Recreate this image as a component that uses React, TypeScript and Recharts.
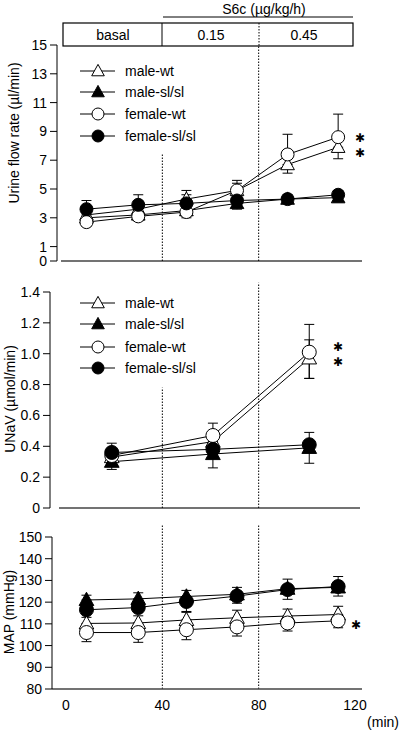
import React from "react";
import { LineChart, Line, XAxis, YAxis, ErrorBar, ReferenceLine } from "recharts";

const FONT = "Arial, 'Liberation Sans', sans-serif";
const INK = "#000";

// legend / series order (later ones are drawn on top)
const SERIES_NAMES = ["male-wt", "male-sl/sl", "female-wt", "female-sl/sl"];
const SERIES_SHAPES = ["triangle", "triangle", "circle", "circle"];
const SERIES_FILLED = [false, true, false, true];

// urine flow rate (µl/min)
const UF_TIME = [8.5, 30, 50, 71, 92, 113];
const UF_MALE_WT = [3.2, 3.6, 4.3, 4.9, 6.7, 7.9];
const UF_MALE_SL = [3.0, 3.2, 3.5, 4.0, 4.3, 4.4];
const UF_FEMALE_WT = [2.7, 3.1, 3.4, 4.9, 7.4, 8.6];
const UF_FEMALE_SL = [3.6, 3.9, 4.0, 4.2, 4.3, 4.6];
const UF_MALE_WT_ERR = [[0, 0.4], [0, 0.5], [0, 0.6], [0, 0.5], [0.6, 0], [0.8, 0]];
const UF_MALE_SL_ERR = [[0.3, 0], [0.4, 0], [0.5, 0], [0.4, 0], [0.3, 0], [0.3, 0]];
const UF_FEMALE_WT_ERR = [[0.3, 0], [0.3, 0], [0.3, 0], [0, 0.7], [0, 1.4], [0, 1.6]];
const UF_FEMALE_SL_ERR = [[0, 0.6], [0, 0.7], [0, 0.6], [0, 0.3], [0, 0.3], [0, 0.3]];
const UF_TICKS = [0, 1, 3, 5, 7, 9, 11, 13, 15];

// UNaV (µmol/min)
const UNAV_TIME = [19, 61, 101];
const UNAV_MALE_WT = [0.33, 0.43, 0.97];
const UNAV_MALE_SL = [0.3, 0.35, 0.39];
const UNAV_FEMALE_WT = [0.34, 0.47, 1.01];
const UNAV_FEMALE_SL = [0.36, 0.38, 0.41];
const UNAV_MALE_WT_ERR = [[0, 0.03], [0, 0.05], [0.13, 0.12]];
const UNAV_MALE_SL_ERR = [[0.05, 0], [0.09, 0], [0.1, 0]];
const UNAV_FEMALE_WT_ERR = [[0, 0.04], [0, 0.08], [0.17, 0.18]];
const UNAV_FEMALE_SL_ERR = [[0, 0.06], [0, 0.06], [0, 0.08]];
const UNAV_TICKS = [0, 0.2, 0.4, 0.6, 0.8, 1.0, 1.2, 1.4];

// MAP (mmHg)
const MAP_TIME = [8.5, 30, 50, 71, 92, 113];
const MAP_MALE_WT = [110.2, 110.4, 111.8, 112.8, 113.6, 114.3];
const MAP_MALE_SL = [121, 121.5, 122.6, 123.6, 126.2, 126.8];
const MAP_FEMALE_WT = [106, 106, 107.3, 108.6, 110.4, 111.4];
const MAP_FEMALE_SL = [116.5, 117.5, 120.3, 122.8, 125.8, 127.2];
const MAP_MALE_WT_ERR = [[0, 2.8], [0, 3.3], [0, 3.5], [0, 3.5], [0, 3.2], [0, 3.8]];
const MAP_MALE_SL_ERR = [[0, 2.2], [0, 2.8], [0, 2.8], [0, 3.2], [0, 4.4], [0, 5]];
const MAP_FEMALE_WT_ERR = [[4.2, 0], [4.5, 0], [4.6, 0], [4.2, 0], [3.7, 0], [3.2, 0]];
const MAP_FEMALE_SL_ERR = [[0, 3], [0, 3], [4.6, 0], [3.3, 0], [4.5, 0], [4.4, 0]];
const MAP_TICKS = [80, 90, 100, 110, 120, 130, 140, 150];

const TIME_TICKS = [0, 40, 80, 120];
const PHASES = ["basal", "0.15", "0.45"];

// x scale: 0 min at 66px, 120 min at 355px
const X0 = 66;
const PX = 289 / 120;
const toMin = (px: number) => (px - X0) / PX;

function buildRows(time: number[], vals: number[][], errs: number[][][]) {
  return time.map((t, i) => {
    const row: any = { t };
    vals.forEach((v, s) => {
      row["s" + s] = v[i];
      row["e" + s] = errs[s][i];
    });
    return row;
  });
}

function Marker({ cx, cy, shape, filled, r }: any) {
  if (cx == null || cy == null) return null;
  const fill = filled ? INK : "#fff";
  if (shape === "circle") {
    return <circle cx={cx} cy={cy} r={r} fill={fill} stroke={INK} strokeWidth={1} />;
  }
  const w = r * 2.1;
  const h = r * 1.9;
  const pts = `${cx},${cy - h * 0.58} ${cx + w / 2},${cy + h * 0.42} ${cx - w / 2},${cy + h * 0.42}`;
  return <polygon points={pts} fill={fill} stroke={INK} strokeWidth={1} strokeLinejoin="miter" />;
}

interface PanelProps {
  top: number;
  height: number;
  plotTop: number;
  plotBottom: number;
  axisX: number;
  lineStart: number;
  lineEnd: number;
  rows: any[];
  yDomain: [number, number];
  yTicks: number[];
  yFormat?: (v: number) => string;
  dash40: [number, number];
  dash80: [number, number];
  showTime?: boolean;
  r: number;
}

function Panel(p: PanelProps) {
  const xMin = toMin(p.axisX);
  const xMax = toMin(362);
  const bottomExtra = p.showTime ? 30 : 0;
  return (
    <div style={{ position: "absolute", left: 0, top: p.top }}>
      <LineChart
        width={400}
        height={p.height}
        data={p.rows}
        margin={{ top: p.plotTop - p.top, right: 38, bottom: p.top + p.height - p.plotBottom - bottomExtra, left: 0 }}
      >
        <XAxis
          dataKey="t"
          type="number"
          domain={[xMin, xMax]}
          allowDataOverflow
          ticks={TIME_TICKS}
          hide={!p.showTime}
          height={30}
          tickLine={false}
          tickMargin={5}
          axisLine={{ stroke: "#444", strokeWidth: 1.5 }}
          tick={{ fill: INK, fontSize: 14, fontFamily: FONT }}
        />
        <YAxis
          type="number"
          domain={p.yDomain}
          ticks={p.yTicks}
          interval={0}
          width={p.axisX}
          tickSize={7}
          tickMargin={3}
          tickFormatter={p.yFormat}
          axisLine={{ stroke: INK, strokeWidth: 1 }}
          tickLine={{ stroke: INK, strokeWidth: 1 }}
          tick={{ fill: INK, fontSize: 14, fontFamily: FONT }}
        />
        {!p.showTime && (
          <ReferenceLine
            segment={[{ x: toMin(p.lineStart), y: p.yDomain[0] }, { x: toMin(p.lineEnd), y: p.yDomain[0] }]}
            stroke="#444"
            strokeWidth={1.5}
            ifOverflow="visible"
          />
        )}
        <ReferenceLine
          segment={[{ x: 40, y: p.dash40[0] }, { x: 40, y: p.dash40[1] }]}
          stroke={INK}
          strokeWidth={1}
          strokeDasharray="1.5 1.5"
          ifOverflow="visible"
        />
        <ReferenceLine
          segment={[{ x: 80, y: p.dash80[0] }, { x: 80, y: p.dash80[1] }]}
          stroke={INK}
          strokeWidth={1}
          strokeDasharray="1.5 1.5"
          ifOverflow="visible"
        />
        {SERIES_NAMES.map((name, s) => (
          <Line
            key={name}
            name={name}
            dataKey={"s" + s}
            type="linear"
            stroke={INK}
            strokeWidth={1}
            isAnimationActive={false}
            activeDot={false}
            dot={(d: any) => (
              <Marker
                key={name + d.index}
                cx={d.cx}
                cy={d.cy}
                r={p.r}
                shape={SERIES_SHAPES[s]}
                filled={SERIES_FILLED[s]}
              />
            )}
          >
            <ErrorBar
              dataKey={"e" + s}
              direction="y"
              width={5}
              stroke={INK}
              strokeWidth={1}
              isAnimationActive={false}
            />
          </Line>
        ))}
      </LineChart>
    </div>
  );
}

function Legend({ rowsY }: { rowsY: number[] }) {
  return (
    <g>
      {SERIES_NAMES.map((name, s) => (
        <g key={name}>
          <line x1={80} x2={115} y1={rowsY[s]} y2={rowsY[s]} stroke={INK} strokeWidth={1} />
          <Marker cx={98} cy={rowsY[s]} r={6} shape={SERIES_SHAPES[s]} filled={SERIES_FILLED[s]} />
          <text x={125} y={rowsY[s]} dominantBaseline="central" fontSize={14} fontFamily={FONT} fill={INK}>
            {name}
          </text>
        </g>
      ))}
    </g>
  );
}

// significance mark
function Star({ x, y }: { x: number; y: number }) {
  return (
    <text x={x} y={y} textAnchor="middle" dominantBaseline="central" fontSize={12} fontFamily="'DejaVu Sans'" fill={INK}>
      ✱
    </text>
  );
}

export default function App() {
  const ufRows = buildRows(
    UF_TIME,
    [UF_MALE_WT, UF_MALE_SL, UF_FEMALE_WT, UF_FEMALE_SL],
    [UF_MALE_WT_ERR, UF_MALE_SL_ERR, UF_FEMALE_WT_ERR, UF_FEMALE_SL_ERR]
  );
  const unavRows = buildRows(
    UNAV_TIME,
    [UNAV_MALE_WT, UNAV_MALE_SL, UNAV_FEMALE_WT, UNAV_FEMALE_SL],
    [UNAV_MALE_WT_ERR, UNAV_MALE_SL_ERR, UNAV_FEMALE_WT_ERR, UNAV_FEMALE_SL_ERR]
  );
  const mapRows = buildRows(
    MAP_TIME,
    [MAP_MALE_WT, MAP_MALE_SL, MAP_FEMALE_WT, MAP_FEMALE_SL],
    [MAP_MALE_WT_ERR, MAP_MALE_SL_ERR, MAP_FEMALE_WT_ERR, MAP_FEMALE_SL_ERR]
  );

  return (
    <div style={{ position: "absolute", left: 0, top: 0, width: 400, height: 731, background: "#fff", fontFamily: FONT }}>
      <Panel
        top={0}
        height={275}
        plotTop={45}
        plotBottom={261}
        axisX={57}
        lineStart={61}
        lineEnd={362}
        rows={ufRows}
        yDomain={[0, 15]}
        yTicks={UF_TICKS}
        dash40={[0, 7.5]}
        dash80={[0, 15]}
        r={6.5}
      />
      <Panel
        top={275}
        height={245}
        plotTop={292}
        plotBottom={508}
        axisX={50}
        lineStart={59}
        lineEnd={360}
        rows={unavRows}
        yDomain={[0, 1.4]}
        yTicks={UNAV_TICKS}
        yFormat={(v) => (v === 0 ? "0" : v.toFixed(1))}
        dash40={[0, 0.78]}
        dash80={[0, 1.46]}
        r={7}
      />
      <Panel
        top={520}
        height={211}
        plotTop={537}
        plotBottom={689}
        axisX={52}
        lineStart={52}
        lineEnd={362}
        rows={mapRows}
        yDomain={[80, 150]}
        yTicks={MAP_TICKS}
        dash40={[80, 155.5]}
        dash80={[80, 155.5]}
        showTime
        r={7}
      />
      <svg width={400} height={731} style={{ position: "absolute", left: 0, top: 0, pointerEvents: "none" }}>
        {/* treatment header */}
        <text x={264} y={9} textAnchor="middle" dominantBaseline="central" fontSize={14} fontFamily={FONT} fill={INK}>
          S6c (µg/kg/h)
        </text>
        <line x1={163} x2={353} y1={17} y2={17} stroke={INK} strokeWidth={1} />
        <rect x={63} y={23} width={290} height={23} fill="none" stroke={INK} strokeWidth={1.2} />
        <line x1={162} x2={162} y1={23} y2={46} stroke={INK} strokeWidth={1} />
        <line x1={259} x2={259} y1={23} y2={46} stroke={INK} strokeWidth={1} strokeDasharray="1.5 1.5" />
        {PHASES.map((ph, i) => (
          <text key={ph} x={[113, 211, 304][i]} y={35} textAnchor="middle" dominantBaseline="central" fontSize={14} fontFamily={FONT} fill={INK}>
            {ph}
          </text>
        ))}

        <Legend rowsY={[71, 92, 114, 136]} />
        <Legend rowsY={[303, 324, 347, 368]} />

        <text transform="translate(14,133) rotate(-90)" textAnchor="middle" dominantBaseline="central" fontSize={14} fontFamily={FONT} fill={INK}>
          Urine flow rate (µl/min)
        </text>
        <text transform="translate(10,399) rotate(-90)" textAnchor="middle" dominantBaseline="central" fontSize={14} fontFamily={FONT} fill={INK}>
          UNaV (µmol/min)
        </text>
        <text transform="translate(9,612) rotate(-90)" textAnchor="middle" dominantBaseline="central" fontSize={14} fontFamily={FONT} fill={INK}>
          MAP (mmHg)
        </text>
        <text x={399} y={722} textAnchor="end" dominantBaseline="central" fontSize={14} fontFamily={FONT} fill={INK}>
          (min)
        </text>

        <Star x={360} y={138} />
        <Star x={360} y={153} />
        <Star x={338} y={347} />
        <Star x={338} y={362} />
        <Star x={356} y={625} />
      </svg>
    </div>
  );
}
